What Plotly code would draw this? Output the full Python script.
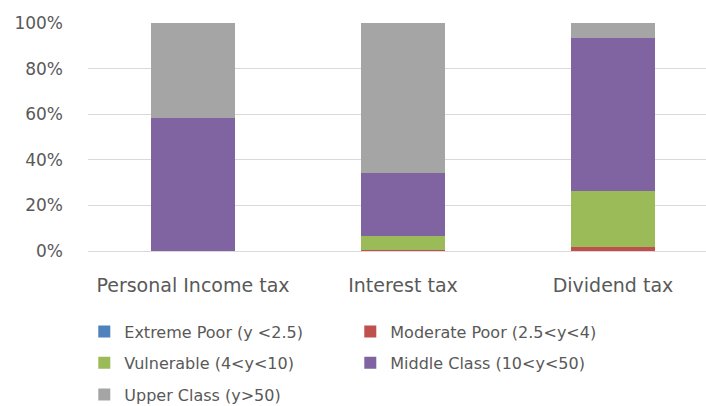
import plotly.graph_objects as go

categories = ["Personal Income tax", "Interest tax", "Dividend tax"]
extreme_poor = [0.0, 0.0, 0.0]
moderate_poor = [0.0, 0.5, 1.9]
vulnerable = [0.0, 6.1, 24.5]
middle_class = [58.3, 27.4, 67.1]
upper_class = [41.7, 66.0, 6.5]
series_names = ["Extreme Poor (y <2.5)", "Moderate Poor (2.5<y<4)", "Vulnerable (4<y<10)",
                "Middle Class (10<y<50)", "Upper Class (y>50)"]
series_values = [extreme_poor, moderate_poor, vulnerable, middle_class, upper_class]
colors = ["#4F81BD", "#C0504D", "#9BBB59", "#8064A2", "#A5A5A5"]
legend_rows = ["legend", "legend", "legend2", "legend2", "legend3"]
y_ticks = [0, 20, 40, 60, 80, 100]
y_tick_labels = ["0%", "20%", "40%", "60%", "80%", "100%"]

FONT = "DejaVu Sans"
TXT = "#595959"

fig = go.Figure()
for name, vals, c, lg in zip(series_names, series_values, colors, legend_rows):
    fig.add_trace(go.Bar(x=categories, y=vals, name=name, legend=lg,
                         marker=dict(color=c, line=dict(width=0))))

T, B = 22.5, 155
PH = 406 - T - B
def ly(py):
    return (251 - py) / PH

leg_common = dict(orientation="h", x=-0.006, xanchor="left", yanchor="middle",
                  entrywidth=221, entrywidthmode="pixels", font=dict(size=16, color=TXT, family=FONT),
                  traceorder="normal", itemwidth=30, bgcolor="rgba(0,0,0,0)")

fig.update_layout(
    barmode="stack",
    bargap=0.6,
    width=706, height=406,
    margin=dict(l=88, r=0, t=T, b=B, autoexpand=False),
    paper_bgcolor="white", plot_bgcolor="white",
    font=dict(family=FONT, size=17, color=TXT),
    legend=dict(**leg_common, y=ly(331.7)),
    legend2=dict(**leg_common, y=ly(363)),
    legend3=dict(**leg_common, y=ly(395)),
    xaxis=dict(range=[-0.5, 2.443], showgrid=False, showline=True, linecolor="#D9D9D9", linewidth=1,
               ticks="", ticklabelstandoff=17, automargin=False, tickfont=dict(size=19, color=TXT)),
    yaxis=dict(range=[0, 100], tickvals=y_ticks, ticktext=y_tick_labels, showgrid=True,
               gridcolor="#D9D9D9", gridwidth=1, zeroline=False, showline=False, automargin=False,
               ticks="", ticklabelstandoff=24, tickfont=dict(size=17, color=TXT)),
)

fig.write_html("out.html", config={"displayModeBar": False},
               post_script="document.body.style.margin='0';")
